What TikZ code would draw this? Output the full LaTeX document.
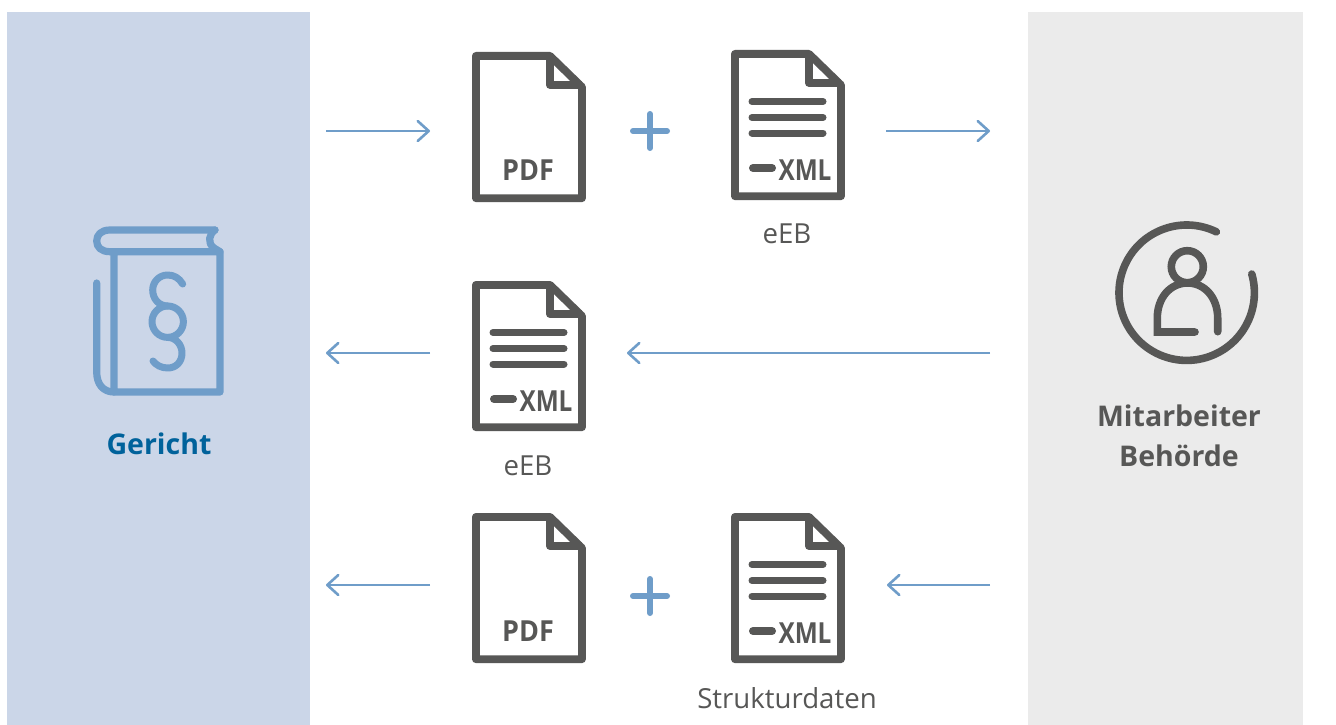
\documentclass[tikz,border=0pt]{standalone}
\usepackage{fontspec}
\setmainfont{Open Sans}
\usetikzlibrary{arrows.meta}
\definecolor{lichtblau}{HTML}{CBD6E8}
\definecolor{lichtgrau}{HTML}{EBEBEB}
\definecolor{pfeilblau}{HTML}{6F9DC9}
\definecolor{dunkelblau}{HTML}{00629B}
\definecolor{iconGrau}{HTML}{575756}
\tikzset{
    pdfdoc/.pic = {
        \draw[docline] (3.9,3.9) -- (78,3.9) -- (110,35) -- (110,146.2) -- (3.9,146.2) -- cycle;
        \draw[docline] (78,3.9) -- (78,33) -- (110,33);
        \node[doclabel] (-label) at (56,118) {\scalebox{.93}[1]{PDF}};
    },
    xmldoc/.pic = {
        \draw[docline] (3.9,3.9) -- (78,3.9) -- (110,35) -- (110,146.2) -- (3.9,146.2) -- cycle;
        \draw[docline] (78,3.9) -- (78,33) -- (110,33);
        \foreach \y in {51.5,67.5,83} \draw[docline,line width=7,line cap=round] (21,\y) -- (92,\y);
        \draw[docline,line cap=round,line width=8] (22,118) -- (41,118);
        \node[doclabel] (-label) at (74,120) {\scalebox{.84}[1]{XML}};
    },
    plus/.pic = {
        \draw[plusline] (-17,0) -- (17,0);
        \draw[plusline] (0,-17) -- (0,17);
    }
}
\begin{document}
\begin{tikzpicture}[
        x=1pt, y=-1pt,
        docline/.style = {draw=iconGrau, line width=7.8, line join=round},
        doclabel/.style = {text=iconGrau, font=\fontsize{29}{29}\selectfont\bfseries, inner sep=0pt},
        plusline/.style = {draw=pfeilblau, line width=6, line cap=round},
        flow/.style = {draw=pfeilblau, line width=2.6, -{Straight Barb[length=11,width=20,line width=2.6,round]}},
        caption/.style = {text=iconGrau, font=\fontsize{27.6}{32}\selectfont, inner sep=0pt},
        title/.style = {font=\fontsize{28.5}{40}\selectfont\bfseries, inner sep=0pt, align=center},
        bookline/.style = {draw=pfeilblau, line width=7.2, line cap=round, line join=round},
        userline/.style = {draw=iconGrau, line width=7.6, line cap=round, line join=miter}
    ]
    \useasboundingbox (0,0) rectangle (1336,725);
    \fill[white] (0,0) rectangle (1336,725);
    \fill[lichtblau] (7,12) rectangle (310,725);
    \fill[lichtgrau] (1028,12) rectangle (1303,725);

    % book
    \draw[bookline] (215,230) -- (110,230) .. controls (101,230) and (96.7,235) .. (96.7,241) .. controls (96.7,247) and (101,251.7) .. (110,251.7) -- (220,251.7) -- (220,392) -- (114,392) -- (114,251.7);
    \draw[bookline] (215,230) .. controls (209,234) and (207,243) .. (214,248) -- (220,251.7);
    \draw[bookline] (96.7,283) -- (96.7,372) .. controls (96.7,384) and (103,392) .. (114,392);
    \draw[bookline,line width=7] (182.7,284) .. controls (179,278) and (174,275) .. (167.7,275) .. controls (159,275) and (152.7,282) .. (152.7,290) .. controls (152.7,299) and (159,306) .. (167.7,306);
    \draw[bookline,line width=7] (167.7,321.7) circle[radius=15.7];
    \draw[bookline,line width=7] (167.7,337.4) .. controls (176,337.4) and (182,345) .. (182,353) .. controls (182,362) and (176,368) .. (167.7,368) .. controls (161,368) and (156,365) .. (153,361);
    \node[title,text=dunkelblau] (gericht) at (159,444) {Gericht};

    % person
    \draw[userline] (1186.7,292.7) ++(-64:67.7) arc[start angle=-64, end angle=-376, radius=67.7];
    \draw[userline] (1187.3,266.7) circle[radius=16];
    \draw[userline] (1195,332) -- (1157.3,332) -- (1157.3,318) .. controls (1157.3,298) and (1170,283) .. (1187.5,283) .. controls (1205,283) and (1217.7,298) .. (1217.7,318) -- (1217.7,331.7);
    \node[title,text=iconGrau] (mitarbeiter) at (1179,436) {Mitarbeiter\\Behörde};

    % documents
    \pic (pdfa) at (472,52) {pdfdoc};
    \pic (xmla) at (731,50) {xmldoc};
    \pic (xmlb) at (472,281) {xmldoc};
    \pic (pdfb) at (472,513) {pdfdoc};
    \pic (xmlc) at (731,513) {xmldoc};
    \pic at (650,131) {plus};
    \pic at (650,596) {plus};
    \node[caption] (eeba) at (787,234) {eEB};
    \node[caption] (eebb) at (528,466) {eEB};
    \node[caption] (struktur) at (787,698) {Strukturdaten};

    % arrows
    \coordinate (aStart) at (326,131);
    \coordinate (aEnd) at (430,131);
    \coordinate (bStart) at (886,131);
    \coordinate (bEnd) at (990,131);
    \coordinate (cStart) at (990,353);
    \coordinate (cEnd) at (627,353);
    \coordinate (dStart) at (430,353);
    \coordinate (dEnd) at (326,353);
    \coordinate (eStart) at (990,585);
    \coordinate (eEnd) at (887,585);
    \coordinate (fStart) at (430,585);
    \coordinate (fEnd) at (326,585);
    \foreach \a/\b in {aStart/aEnd,bStart/bEnd,cStart/cEnd,dStart/dEnd,eStart/eEnd,fStart/fEnd}
        \draw[flow] (\a) -- (\b);
\end{tikzpicture}
\end{document}
